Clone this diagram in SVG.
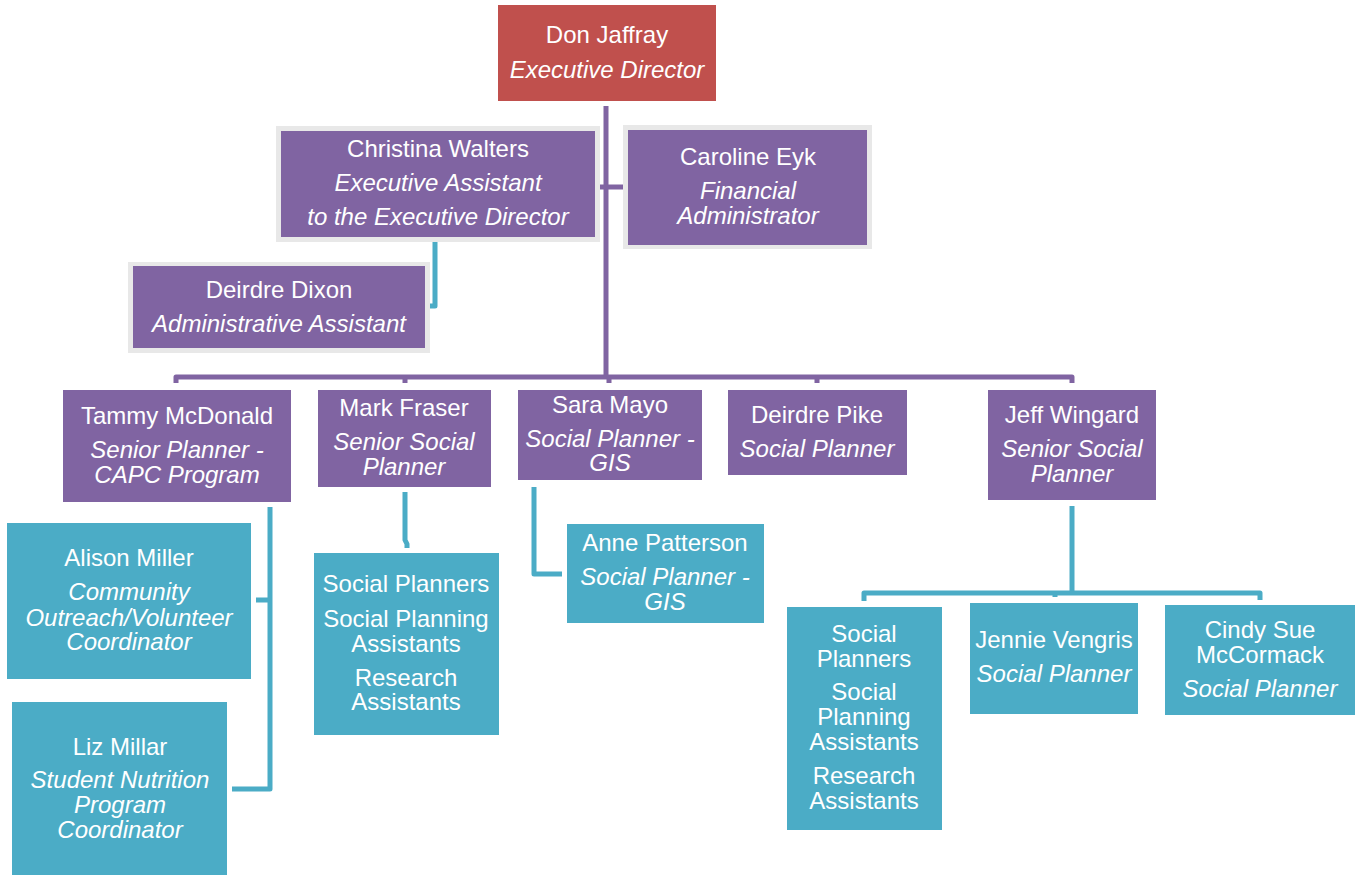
<svg xmlns="http://www.w3.org/2000/svg" width="1356" height="875" viewBox="0 0 1356 875">
<style>
text{font-family:"Liberation Sans",Arial,sans-serif;font-size:24px;fill:#fff;text-anchor:middle}
.t{font-style:italic}
.red{fill:#C0504D}
.pur{fill:#8064A2}
.teal{fill:#4BACC6}
.halo{fill:#E8E8E8}
.cp{fill:none;stroke:#8064A2;stroke-width:5;stroke-linejoin:round}
.ct{fill:none;stroke:#4BACC6;stroke-width:5;stroke-linejoin:round}
</style>
<rect width="1356" height="875" fill="#fff"/>
<g id="connectors">
<path class="cp" d="M606 106V377M600 187H624M176 383V377H1072V383M405 377V383M609 377V383M817 377V383"/>
<path class="ct" d="M435 242V306H430"/>
<path class="ct" d="M270 507V789H232M270 600H256"/>
<path class="ct" d="M405 492V540L407 544V548"/>
<path class="ct" d="M534 487V574H562"/>
<path class="ct" d="M1072 506V593M864 601V593H1260V600M1055 593V597"/>
</g>
<g id="don">
<rect class="red" x="498" y="5" width="218" height="96"/>
<text x="607" y="43">Don Jaffray</text>
<text class="t" x="607" y="78">Executive Director</text>
</g>
<g id="christina">
<rect class="halo" x="276" y="126" width="324" height="116"/>
<rect class="pur" x="281" y="131" width="314" height="106"/>
<text x="438" y="157">Christina Walters</text>
<text class="t" x="438" y="191">Executive Assistant</text>
<text class="t" x="438" y="225">to the Executive Director</text>
</g>
<g id="caroline">
<rect class="halo" x="623" y="125" width="249" height="124"/>
<rect class="pur" x="628" y="130" width="239" height="115"/>
<text x="748" y="165">Caroline Eyk</text>
<text class="t" x="748" y="199">Financial</text>
<text class="t" x="748" y="224">Administrator</text>
</g>
<g id="dixon">
<rect class="halo" x="128" y="262" width="302" height="91"/>
<rect class="pur" x="133" y="266" width="292" height="82"/>
<text x="279" y="298">Deirdre Dixon</text>
<text class="t" x="279" y="332">Administrative Assistant</text>
</g>
<g id="tammy">
<rect class="pur" x="63" y="390" width="228" height="112"/>
<text x="177" y="424">Tammy McDonald</text>
<text class="t" x="177" y="458">Senior Planner -</text>
<text class="t" x="177" y="483">CAPC Program</text>
</g>
<g id="mark">
<rect class="pur" x="318" y="390" width="173" height="97"/>
<text x="404" y="416">Mark Fraser</text>
<text class="t" x="404" y="450">Senior Social</text>
<text class="t" x="404" y="475">Planner</text>
</g>
<g id="sara">
<rect class="pur" x="518" y="390" width="184" height="90"/>
<text x="610" y="413">Sara Mayo</text>
<text class="t" x="610" y="447">Social Planner -</text>
<text class="t" x="610" y="471">GIS</text>
</g>
<g id="pike">
<rect class="pur" x="728" y="390" width="179" height="85"/>
<text x="817" y="423">Deirdre Pike</text>
<text class="t" x="817" y="457">Social Planner</text>
</g>
<g id="jeff">
<rect class="pur" x="988" y="390" width="168" height="110"/>
<text x="1072" y="423">Jeff Wingard</text>
<text class="t" x="1072" y="457">Senior Social</text>
<text class="t" x="1072" y="482">Planner</text>
</g>
<g id="alison">
<rect class="teal" x="7" y="523" width="244" height="156"/>
<text x="129" y="566">Alison Miller</text>
<text class="t" x="129" y="600">Community</text>
<text class="t" x="129" y="626">Outreach/Volunteer</text>
<text class="t" x="129" y="650">Coordinator</text>
</g>
<g id="liz">
<rect class="teal" x="12" y="702" width="215" height="180"/>
<text x="120" y="755">Liz Millar</text>
<text class="t" x="120" y="788">Student Nutrition</text>
<text class="t" x="120" y="813">Program</text>
<text class="t" x="120" y="838">Coordinator</text>
</g>
<g id="mark-team">
<rect class="teal" x="314" y="553" width="185" height="182"/>
<text x="406" y="592">Social Planners</text>
<text x="406" y="627">Social Planning</text>
<text x="406" y="652">Assistants</text>
<text x="406" y="686">Research</text>
<text x="406" y="710">Assistants</text>
</g>
<g id="anne">
<rect class="teal" x="567" y="524" width="197" height="99"/>
<text x="665" y="551">Anne Patterson</text>
<text class="t" x="665" y="585">Social Planner -</text>
<text class="t" x="665" y="610">GIS</text>
</g>
<g id="jeff-team">
<rect class="teal" x="787" y="607" width="155" height="223"/>
<text x="864" y="642">Social</text>
<text x="864" y="667">Planners</text>
<text x="864" y="700">Social</text>
<text x="864" y="725">Planning</text>
<text x="864" y="750">Assistants</text>
<text x="864" y="784">Research</text>
<text x="864" y="809">Assistants</text>
</g>
<g id="jennie">
<rect class="teal" x="970" y="603" width="168" height="111"/>
<text x="1054" y="648">Jennie Vengris</text>
<text class="t" x="1054" y="682">Social Planner</text>
</g>
<g id="cindy">
<rect class="teal" x="1165" y="605" width="190" height="110"/>
<text x="1260" y="638">Cindy Sue</text>
<text x="1260" y="663">McCormack</text>
<text class="t" x="1260" y="697">Social Planner</text>
</g>
</svg>
